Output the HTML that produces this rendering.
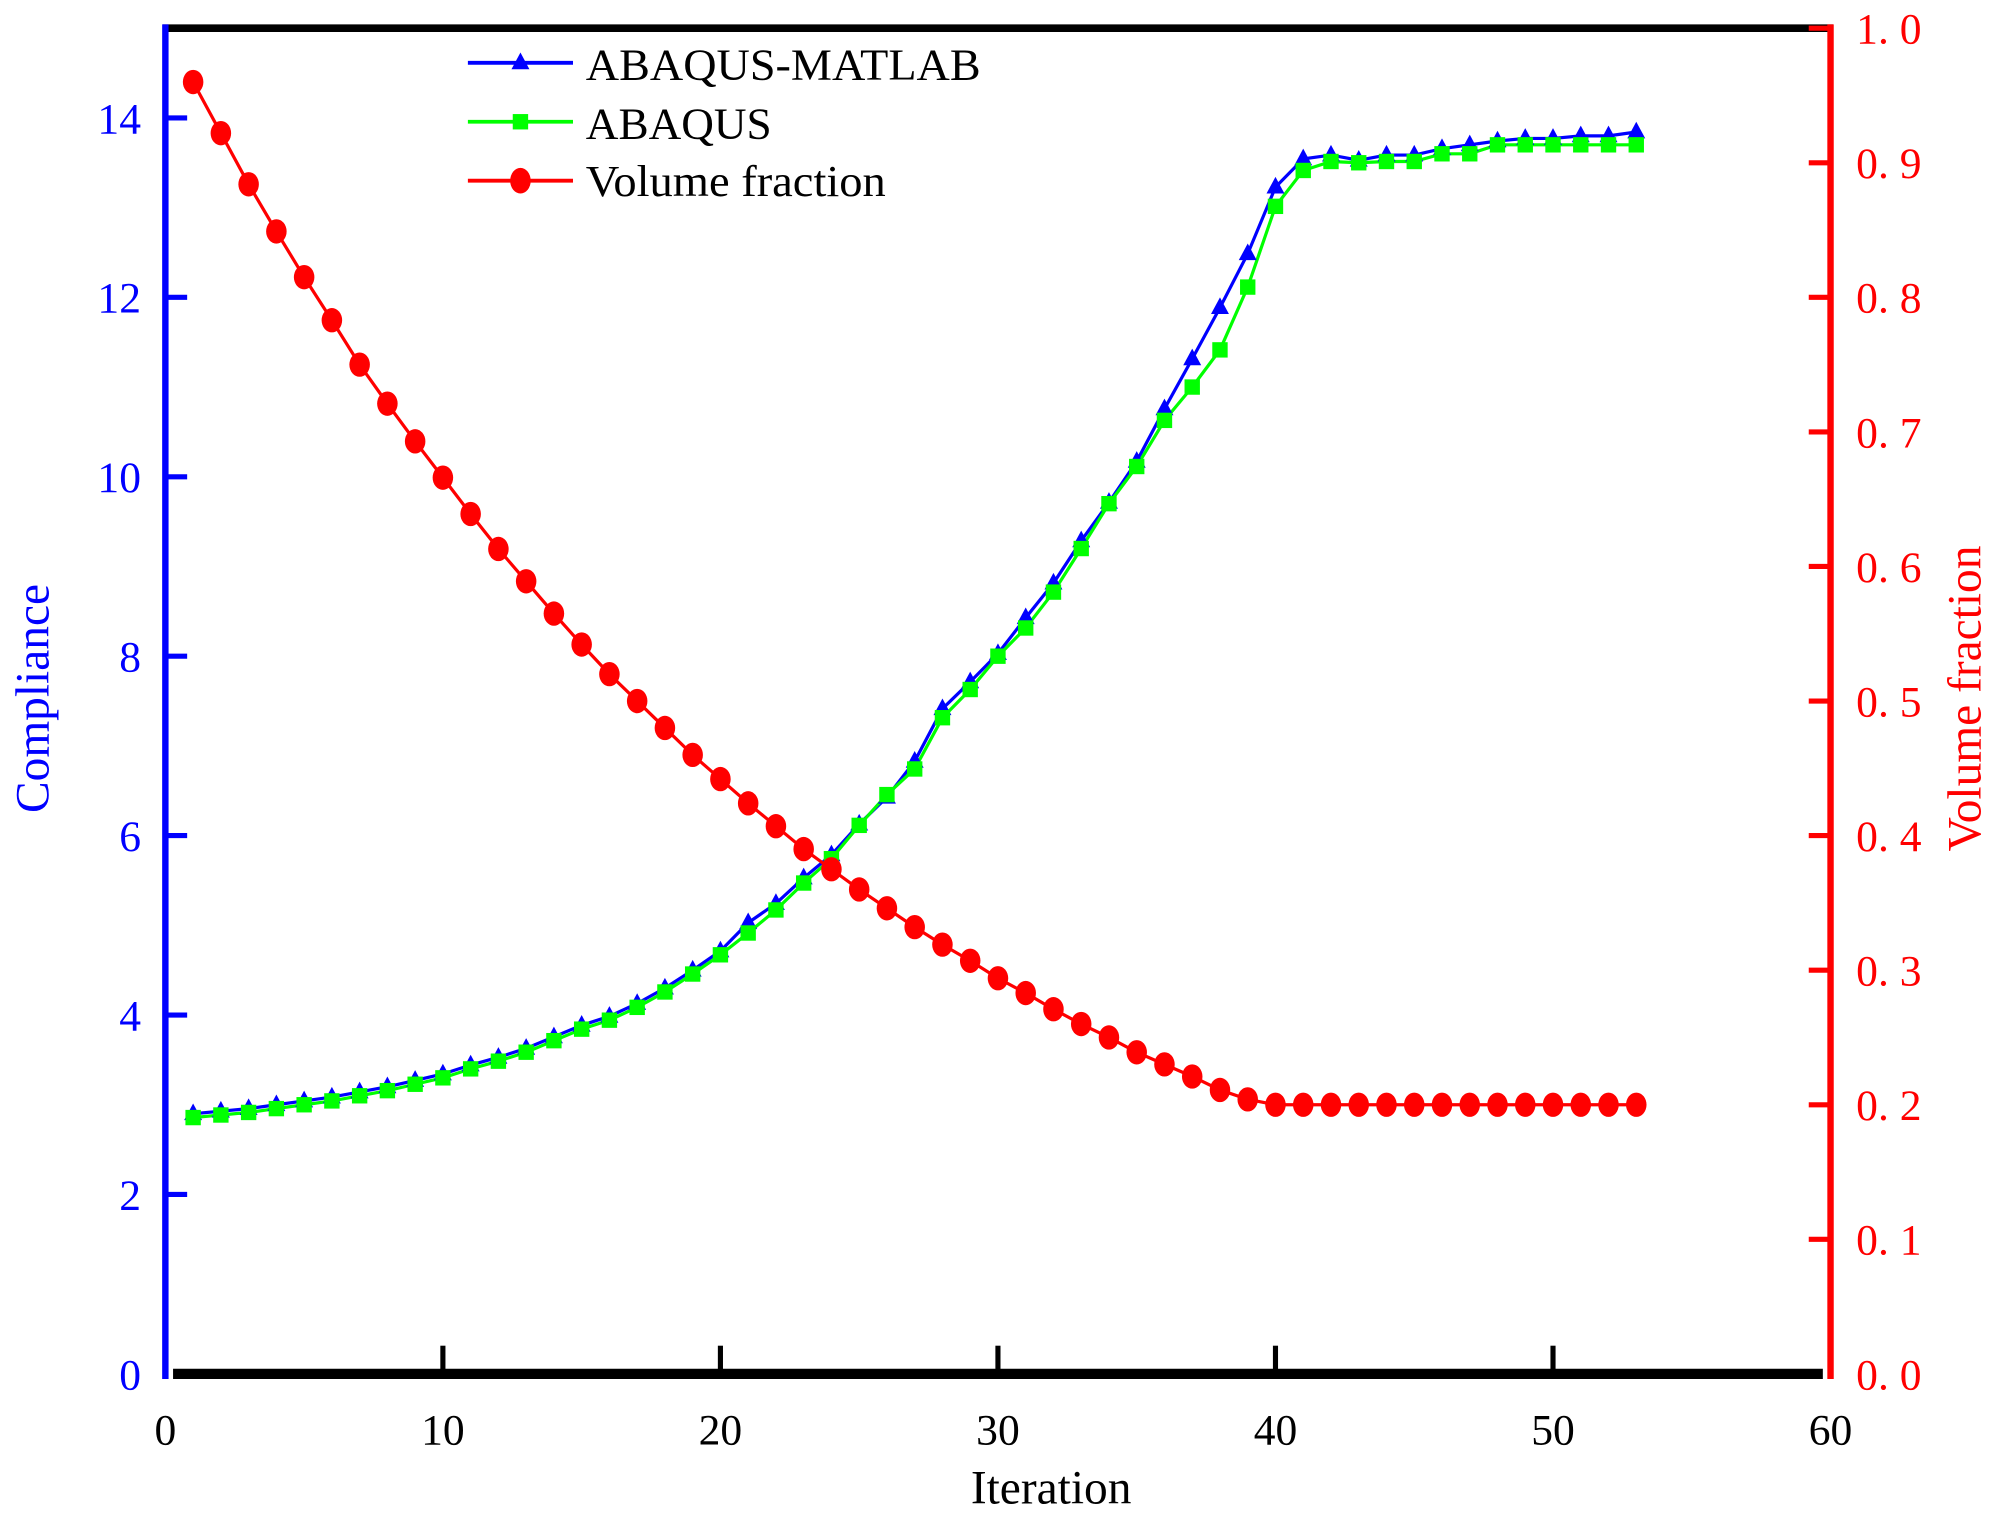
<!DOCTYPE html>
<html><head><meta charset="utf-8"><style>
html,body{margin:0;padding:0;background:#fff;}
svg{display:block;}
text{font-family:"Liberation Serif",serif;}
</style></head><body>
<svg id="s" width="2010" height="1520" viewBox="0 0 1568 1186" xmlns="http://www.w3.org/2000/svg" preserveAspectRatio="none">
<rect width="1568" height="1186" fill="#fff"/>
<g id="data"></g>
<line x1="127" y1="22" x2="1430" y2="22" stroke="#000" stroke-width="6"/>
<line x1="129" y1="19" x2="129" y2="1076" stroke="#00f" stroke-width="5"/>
<line x1="1428" y1="19" x2="1428" y2="1076" stroke="#f00" stroke-width="5"/>
<line x1="135" y1="1072" x2="1422" y2="1072" stroke="#000" stroke-width="8"/>
<g stroke="#00f" stroke-width="4">
<line x1="129" y1="92" x2="146" y2="92"/><line x1="129" y1="232" x2="146" y2="232"/>
<line x1="129" y1="372" x2="146" y2="372"/><line x1="129" y1="512" x2="146" y2="512"/>
<line x1="129" y1="652" x2="146" y2="652"/><line x1="129" y1="792" x2="146" y2="792"/>
<line x1="129" y1="932" x2="146" y2="932"/>
</g>
<g stroke="#f00" stroke-width="4" id="rt"></g>
<g stroke="#000" stroke-width="4">
<line x1="345.5" y1="1050" x2="345.5" y2="1070"/><line x1="562" y1="1050" x2="562" y2="1070"/>
<line x1="778.5" y1="1050" x2="778.5" y2="1070"/><line x1="995" y1="1050" x2="995" y2="1070"/>
<line x1="1211.5" y1="1050" x2="1211.5" y2="1070"/>
</g>
<g fill="#00f" font-size="34" text-anchor="end">
<text x="110" y="104">14</text><text x="110" y="244">12</text><text x="110" y="384">10</text>
<text x="110" y="524">8</text><text x="110" y="664">6</text><text x="110" y="804">4</text>
<text x="110" y="944">2</text><text x="110" y="1084">0</text>
</g>
<g fill="#f00" font-size="34">
<text x="1448" y="1084">0. 0</text><text x="1448" y="979">0. 1</text><text x="1448" y="874">0. 2</text>
<text x="1448" y="769">0. 3</text><text x="1448" y="664">0. 4</text><text x="1448" y="559">0. 5</text>
<text x="1448" y="454">0. 6</text><text x="1448" y="349">0. 7</text><text x="1448" y="244">0. 8</text>
<text x="1448" y="139">0. 9</text><text x="1448" y="34">1. 0</text>
</g>
<g fill="#000" font-size="34" text-anchor="middle">
<text x="129" y="1127">0</text><text x="345.5" y="1127">10</text><text x="562" y="1127">20</text>
<text x="778.5" y="1127">30</text><text x="995" y="1127">40</text><text x="1211.5" y="1127">50</text>
<text x="1428" y="1127">60</text>
<text x="820" y="1173" font-size="37">Iteration</text>
</g>
<text transform="translate(38,545) rotate(-90)" fill="#00f" font-size="37" text-anchor="middle">Compliance</text>
<text transform="translate(1545,545) rotate(-90)" fill="#f00" font-size="37" text-anchor="middle">Volume fraction</text>
<line x1="365" y1="49" x2="447" y2="49" stroke="#00f" stroke-width="3"/>
<polygon points="406,41 399,54 413,54" fill="#00f"/>
<line x1="365" y1="95" x2="447" y2="95" stroke="#0f0" stroke-width="3"/>
<rect x="400" y="89" width="12" height="12" fill="#0f0"/>
<line x1="365" y1="141" x2="447" y2="141" stroke="#f00" stroke-width="3"/>
<ellipse cx="406" cy="141" rx="8" ry="10" fill="#f00"/>
<g font-size="35" fill="#000">
<text x="457" y="62" textLength="308" lengthAdjust="spacingAndGlyphs">ABAQUS-MATLAB</text>
<text x="457" y="108" textLength="145" lengthAdjust="spacingAndGlyphs">ABAQUS</text>
<text x="457" y="153" textLength="234" lengthAdjust="spacingAndGlyphs">Volume fraction</text>
</g>
</svg>
<script>
var NS="http://www.w3.org/2000/svg";
function X(i){return 129+i*21.65;}
var vf=[0.96,0.922,0.884,0.849,0.815,0.783,0.75,0.721,0.693,0.666,0.639,0.613,0.589,0.565,0.542,0.52,0.5,0.48,0.46,0.442,0.424,0.407,0.39,0.375,0.36,0.346,0.332,0.319,0.307,0.294,0.283,0.271,0.26,0.25,0.239,0.23,0.221,0.211,0.204];
while(vf.length<53)vf.push(0.2);
var g=[872,870,868,865,862,859,855,851,846,841,834,828,821,812,803,796,786,774,760,745,728,710,689,670,644,620,600,560,538,512,490,462,428,393,364,328,302,273,224,161,133,126,127,126,126,120,120,113,113,113,113,113,113];
var b=[869,867,865,862,859,856,852,848,843,838,831,825,818,809,800,793,783,771,757,742,720,705,685,667,643,622,594,553,532,510,482,455,422,392,360,319,280,240,198,146,124,121,125,121,121,116,113,110,108,108,106,106,103];
var d=document.getElementById("data");
function el(n,a){var e=document.createElementNS(NS,n);for(var k in a)e.setAttribute(k,a[k]);d.appendChild(e);return e;}
function pl(ys,c){var p=ys.map(function(y,i){return X(i+1)+","+y;}).join(" ");el("polyline",{points:p,fill:"none",stroke:c,"stroke-width":2.5});}
pl(b,"#00f");pl(g,"#0f0");
b.forEach(function(y,i){var x=X(i+1);el("polygon",{points:(x)+","+(y-8)+" "+(x-7)+","+(y+5)+" "+(x+7)+","+(y+5),fill:"#00f"});});
g.forEach(function(y,i){var x=X(i+1);el("rect",{x:x-6,y:y-6,width:12,height:12,fill:"#0f0"});});
var vy=vf.map(function(v){return 1072-v*1050;});
pl(vy,"#f00");
vy.forEach(function(y,i){el("ellipse",{cx:X(i+1),cy:y,rx:8,ry:9.5,fill:"#f00"});});
var rt=document.getElementById("rt");
for(var k=1;k<=10;k++){var l=document.createElementNS(NS,"line");var y=1072-k*105;l.setAttribute("x1",1411);l.setAttribute("x2",1428);l.setAttribute("y1",y);l.setAttribute("y2",y);rt.appendChild(l);}
</script>
</body></html>
